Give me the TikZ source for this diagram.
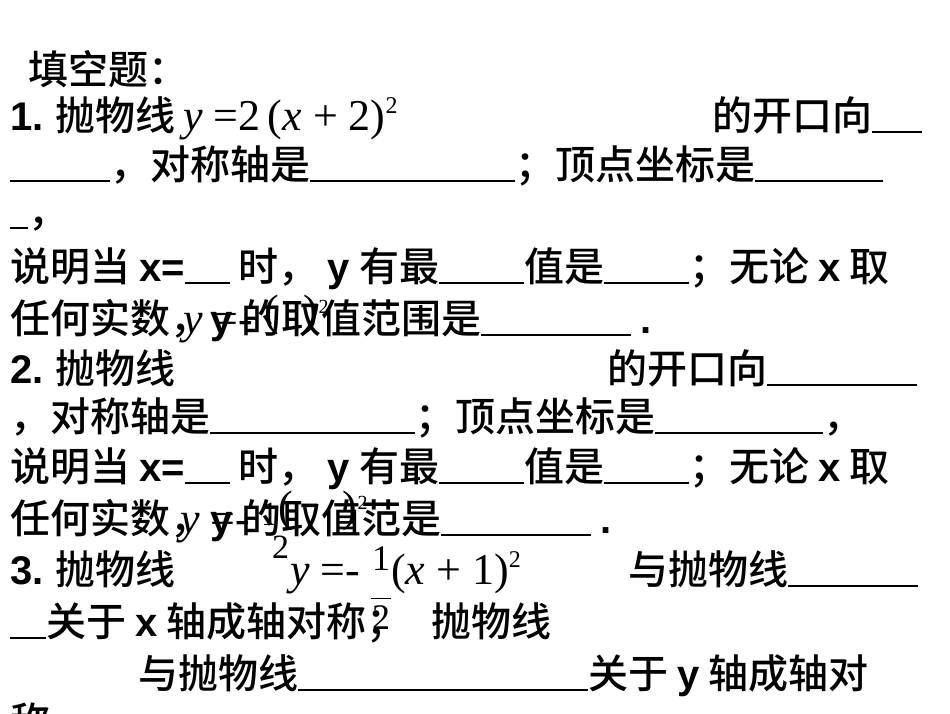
\documentclass[tikz,border=0pt]{standalone}
\usepackage{fontspec}
\newfontfamily\cjk{Noto Sans CJK SC Medium}
\newfontfamily\lat{Liberation Sans}
\newfontfamily\ser{Liberation Serif}
\newcommand{\bl}[1]{\rule[-3pt]{#1pt}{1.8pt}}
\newcommand{\lx}[1]{{\lat\bfseries #1}}
\newcommand{\myfrac}{\raisebox{-15pt}{\fontsize{36}{36}\selectfont\begin{tabular}{@{}c@{}}1\\[-8pt]\rule{20pt}{0.9pt}\\[-5pt]2\end{tabular}}}
\tikzset{ln/.style={anchor=base west,inner sep=0pt,font=\cjk\fontsize{40}{44}\selectfont},
 mth/.style={anchor=base west,inner sep=0pt,font=\ser\fontsize{44}{48}\selectfont}}
\begin{document}
\begin{tikzpicture}[x=1pt,y=-1pt]
\useasboundingbox (0,0) rectangle (950,713);
\fill[white] (0,0) rectangle (950,713);
\node[ln] (t0) at (28,84) {填空题：};
\node[ln] (a1) at (10,130) {\lx{1.} 抛物线};
\node[mth] (m1) at (183,130) {\textit{y} =2\,(\textit{x} + 2)\raisebox{17pt}{\fontsize{24}{24}\selectfont 2}};
\node[ln] (a1b) at (712,130) {的开口向\bl{50}};
\node[ln] (a2) at (10,179) {\bl{100}，对称轴是\bl{205}；顶点坐标是\bl{128}};
\node[ln] (a3) at (10,226) {\bl{18}，};
\node[ln] (a4) at (10,281) {说明当 \lx{x=}\bl{45} 时， \lx{y} 有最\bl{85}值是\bl{85}；无论 \lx{x} 取};
\node[ln] (a5) at (10,333) {任何实数，\lx{y} 的取值范围是\bl{150} \lx{.}};
\node[mth] (m5) at (183,333) {\textit{y} =- \raisebox{8pt}{(}\hspace{25pt}\raisebox{8pt}{)\raisebox{12pt}{\fontsize{20}{20}\selectfont 2}}};
\node[ln] (b1) at (10,383) {\lx{2.} 抛物线};
\node[ln] (b1b) at (607,383) {的开口向\bl{150}};
\node[ln] (b2) at (10,431) {，对称轴是\bl{205}；顶点坐标是\bl{168}，};
\node[ln] (b3) at (10,481) {说明当 \lx{x=}\bl{45} 时， \lx{y} 有最\bl{85}值是\bl{85}；无论 \lx{x} 取};
\node[ln] (b4) at (10,533) {任何实数，\lx{y} 的取值范是\bl{150} \lx{.}};
\node[mth] (m4) at (180,533) {\textit{y} =- \raisebox{8pt}{\fontsize{34}{34}\selectfont 1}\raisebox{12pt}{(}\hspace{50pt}\raisebox{12pt}{)\raisebox{12pt}{\fontsize{20}{20}\selectfont 2}}};
\node[mth] (m4b) at (272,558) {\fontsize{34}{34}\selectfont 2};
\node[ln] (c1) at (10,584) {\lx{3.} 抛物线};
\node[mth] (m6) at (290,584) {\textit{y} =- \myfrac(\textit{x} + 1)\raisebox{17pt}{\fontsize{24}{24}\selectfont 2}};
\node[ln] (c1b) at (628,584) {与抛物线\bl{130}};
\node[ln] (c2) at (10,636) {\bl{36}关于 \lx{x} 轴成轴对称；\hspace{25pt}抛物线};
\node[ln] (c3) at (138,688) {与抛物线\bl{290}关于 \lx{y} 轴成轴对};
\node[ln] (c4) at (10,736) {称};
\end{tikzpicture}
\end{document}
